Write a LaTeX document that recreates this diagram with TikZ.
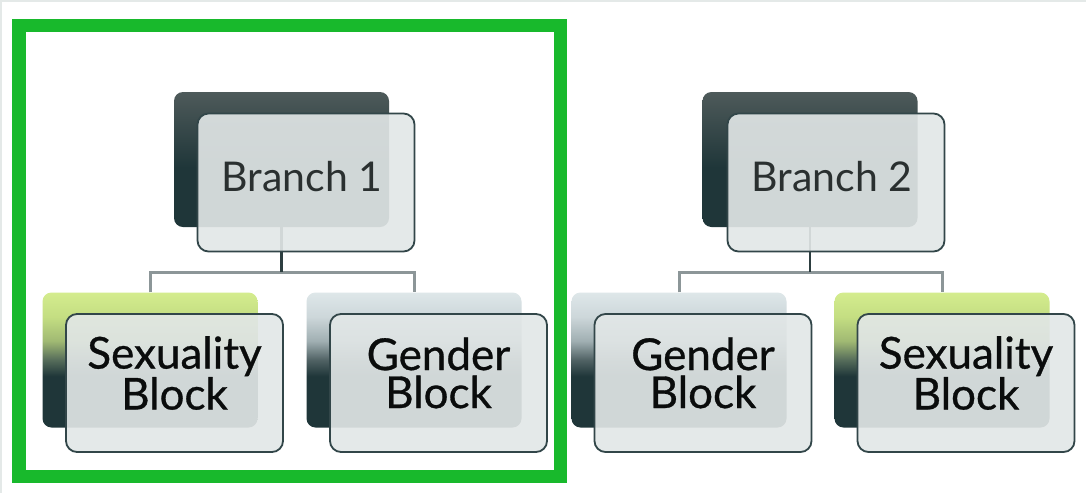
\documentclass[tikz,border=0pt]{standalone}
\usepackage{fontspec}
\setmainfont{Lato}
\newfontfamily\blockfont[FakeBold=0.7]{Lato}
\usetikzlibrary{calc}
\definecolor{dk}{RGB}{31,54,57}
\definecolor{brtop}{RGB}{78,90,90}
\definecolor{grnT}{RGB}{212,236,142}
\definecolor{grnA}{RGB}{196,222,130}
\definecolor{grnB}{RGB}{160,185,115}
\definecolor{grnC}{RGB}{85,108,90}
\definecolor{gryT}{RGB}{222,231,233}
\definecolor{gryA}{RGB}{205,215,218}
\definecolor{gryB}{RGB}{160,175,178}
\definecolor{gryC}{RGB}{80,98,100}
\definecolor{frontfill}{RGB}{226,231,231}
\definecolor{edge}{RGB}{50,70,73}
\definecolor{cgreyc}{RGB}{140,150,152}
\definecolor{cdarkc}{RGB}{45,62,64}
\definecolor{frame}{RGB}{24,185,44}
\definecolor{strip}{RGB}{228,233,232}
\definecolor{txt}{RGB}{10,12,12}
\definecolor{txtb}{RGB}{42,48,48}
\pgfdeclareverticalshading{shBranch}{100bp}{color(0bp)=(dk); color(25bp)=(dk); color(47bp)=(dk); color(75bp)=(brtop); color(100bp)=(brtop)}
\pgfdeclareverticalshading{shGreen}{100bp}{color(0bp)=(dk); color(25bp)=(dk); color(44bp)=(dk); color(50bp)=(grnC); color(57bp)=(grnB); color(66bp)=(grnA); color(75bp)=(grnT); color(100bp)=(grnT)}
\pgfdeclareverticalshading{shGrey}{100bp}{color(0bp)=(dk); color(25bp)=(dk); color(44bp)=(dk); color(50bp)=(gryC); color(57bp)=(gryB); color(66bp)=(gryA); color(75bp)=(gryT); color(100bp)=(gryT)}
\tikzset{
  backbox/.style={rounded corners=9pt, minimum width=215pt, minimum height=135pt, inner sep=0pt, shade, shading=#1},
  frontbox/.style={rounded corners=11pt, minimum width=217pt, minimum height=138pt, inner sep=0pt, draw=edge, line width=1.8pt, fill=frontfill, fill opacity=0.91},
  lowtext/.style={font=\blockfont\fontsize{44}{38}\selectfont, align=center, text=txt, inner sep=0pt},
  brtext/.style={font=\fontsize{41}{45}\selectfont, text=txtb, inner sep=0pt},
  cgrey/.style={draw=cgreyc, line width=3pt},
  cdark/.style={draw=cdarkc, line width=2.5pt}
}
\begin{document}
\begin{tikzpicture}[x=1pt,y=-1pt]
\useasboundingbox (0,0) rectangle (1086,493);
\fill[white] (0,0) rectangle (1086,493);
\fill[strip] (0,0) rectangle (1086,2);
\fill[strip] (0,0) rectangle (1.5,493);
\draw[frame, line width=13.5pt] (19,25.5) rectangle (560.5,476.5);
% back boxes
\node[backbox=shBranch] (b1b) at (281.5,159.5) {};
\node[backbox=shBranch] (b2b) at (810,159.5) {};
\node[backbox=shGreen] (s1b) at (150,360) {};
\node[backbox=shGrey] (g1b) at (414,360) {};
\node[backbox=shGrey] (g2b) at (679,360) {};
\node[backbox=shGreen] (s2b) at (942,360) {};
% connectors
\coordinate (j1) at (b1b.south |- 0,272);
\coordinate (j2) at (b2b.south |- 0,272);
\draw[cgrey] (s1b.north) |- (j1) -| (g1b.north);
\draw[cgrey] (g2b.north) |- (j2) -| (s2b.north);
\draw[cdark] (b1b.south) -- (j1);
\draw[cdark] (b2b.south) -- (j2);
% front boxes
\node[frontbox] (b1f) at ($(b1b.center)+(24.5,23)$) {};
\node[frontbox] (b2f) at ($(b2b.center)+(26,23)$) {};
\node[frontbox] (s1f) at ($(s1b.center)+(24.5,23)$) {};
\node[frontbox] (g1f) at ($(g1b.center)+(24.5,23)$) {};
\node[frontbox] (g2f) at ($(g2b.center)+(24,23)$) {};
\node[frontbox] (s2f) at ($(s2b.center)+(24,23)$) {};
% texts
\node[brtext] (t1) at ($(b1f.center)+(-4,-5.5)$) {Branch 1};
\node[brtext] (t2) at ($(b2f.center)+(-4,-5.5)$) {Branch 2};
\node[lowtext] (t3) at ($(s1f.center)+(0,-10)$) {Sexuality\\Block};
\node[lowtext] (t4) at ($(g1f.center)+(0,-10)$) {Gender\\Block};
\node[lowtext] (t5) at ($(g2f.center)+(0,-10)$) {Gender\\Block};
\node[lowtext] (t6) at ($(s2f.center)+(0,-10)$) {Sexuality\\Block};
\end{tikzpicture}
\end{document}
